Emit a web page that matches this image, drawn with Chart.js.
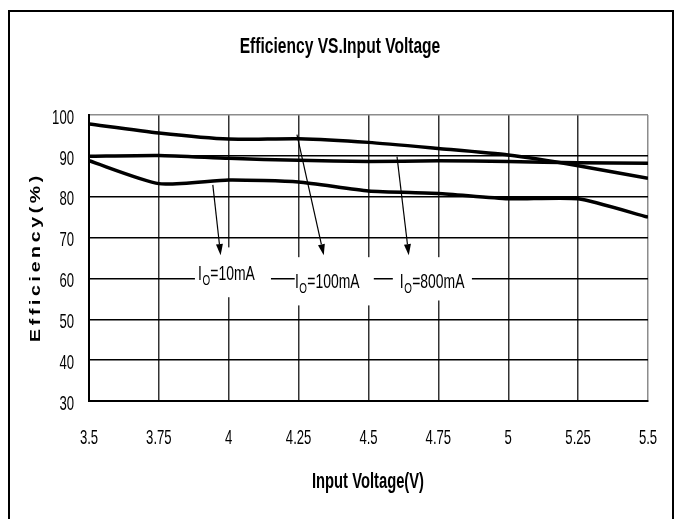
<!DOCTYPE html>
<html>
<head>
<meta charset="utf-8">
<script src="https://cdn.jsdelivr.net/npm/chart.js@4.4.1/dist/chart.umd.min.js"></script>
<style>
html,body{margin:0;padding:0;background:#fff;}
canvas{display:block;}
</style>
</head>
<body>
<canvas id="c" width="675" height="519"></canvas>
<script>
// ---- data ----
const voltages = [3.5, 3.75, 4, 4.25, 4.5, 4.75, 5, 5.25, 5.5];
const xTickLabels = ['3.5', '3.75', '4', '4.25', '4.5', '4.75', '5', '5.25', '5.5'];
const yTickLabels = ['30', '40', '50', '60', '70', '80', '90', '100'];
const eff10mA  = [88.8, 83.2, 84.1, 83.6, 81.4, 80.8, 79.5, 79.5, 75.0];
const eff100mA = [97.8, 95.6, 94.1, 94.2, 93.3, 91.8, 90.2, 87.6, 84.5];
const eff800mA = [89.9, 90.1, 89.4, 88.9, 88.6, 88.8, 88.6, 88.3, 88.2];
const seriesNames = ['10mA', '100mA', '800mA'];
const chartTitle = 'Efficiency VS.Input Voltage';
const xTitle = 'Input Voltage(V)';
const yTitle = 'Efficiency(%)';
// annotation anchors in data units: arrow tail, arrow head, label (left, baseline), white box
const arrowFrom = [[3.943, 82.9], [4.244, 95.2], [4.602, 89.8]];
const arrowTo   = [[3.971, 65.7], [4.340, 65.7], [4.644, 65.7]];
const labelAt   = [[3.890, 59.5], [4.237, 57.6], [4.612, 57.6]];
const boxX      = [[3.879, 4.151], [4.236, 4.519], [4.587, 4.870]];
const boxY      = [[67.6, 55.4], [65.2, 53.4], [65.2, 54.6]];

const FONT = '"Liberation Sans", Arial, sans-serif';
const SX = 0.82, SY = 1.2;   // condensed, tall lettering like the original

const canvas = document.getElementById('c');
const g = canvas.getContext('2d');
const rawFill = g.fillText.bind(g);
g.fillText = function (t, x, y, mw) {
  const sy = /\b16px/.test(this.font) ? 1.3 : SY;
  this.save();
  this.translate(x, y);
  this.scale(SX, sy);
  if (mw !== undefined) rawFill(t, 0, 0, mw / SX); else rawFill(t, 0, 0);
  this.restore();
};

const toPts = arr => voltages.map((v, i) => ({x: v, y: arr[i]}));

const decor = {
  id: 'decor',
  beforeDatasetsDraw(chart) {
    const {ctx, scales: {x, y}} = chart;
    ctx.save();
    ctx.fillStyle = '#fff';
    for (let i = 0; i < boxX.length; i++) {
      const x0 = x.getPixelForValue(boxX[i][0]), x1 = x.getPixelForValue(boxX[i][1]);
      const y0 = y.getPixelForValue(boxY[i][0]), y1 = y.getPixelForValue(boxY[i][1]);
      ctx.fillRect(x0, y0, x1 - x0, y1 - y0);
    }
    ctx.restore();
  },
  afterDatasetsDraw(chart) {
    const {ctx, scales: {x, y}} = chart;
    ctx.save();
    ctx.strokeStyle = '#000';
    ctx.fillStyle = '#000';
    ctx.lineWidth = 1.2;
    for (let i = 0; i < arrowFrom.length; i++) {
      const ax = x.getPixelForValue(arrowFrom[i][0]), ay = y.getPixelForValue(arrowFrom[i][1]);
      const bx = x.getPixelForValue(arrowTo[i][0]), by = y.getPixelForValue(arrowTo[i][1]);
      const ang = Math.atan2(by - ay, bx - ax);
      const L = 11, W = 3.5;
      const hx = bx - L * Math.cos(ang), hy = by - L * Math.sin(ang);
      ctx.beginPath(); ctx.moveTo(ax, ay); ctx.lineTo(hx, hy); ctx.stroke();
      ctx.beginPath();
      ctx.moveTo(bx, by);
      ctx.lineTo(hx + W * Math.sin(ang), hy - W * Math.cos(ang));
      ctx.lineTo(hx - W * Math.sin(ang), hy + W * Math.cos(ang));
      ctx.closePath(); ctx.fill();
    }
    // labels
    ctx.textBaseline = 'alphabetic';
    ctx.textAlign = 'left';
    for (let i = 0; i < labelAt.length; i++) {
      let lx = x.getPixelForValue(labelAt[i][0]);
      const ly = y.getPixelForValue(labelAt[i][1]);
      ctx.font = '17px ' + FONT;
      ctx.fillText('I', lx, ly);
      lx += ctx.measureText('I').width * SX + 0.5;
      ctx.font = '12px ' + FONT;
      ctx.fillText('O', lx, ly + 5);
      lx += ctx.measureText('O').width * SX + 0.3;
      ctx.font = '17px ' + FONT;
      ctx.fillText('=' + seriesNames[i], lx, ly);
    }
    ctx.restore();
  },
  afterDraw(chart) {
    const {ctx} = chart;
    ctx.save();
    ctx.fillStyle = '#000';
    ctx.textBaseline = 'alphabetic';
    ctx.textAlign = 'center';
    // chart title
    ctx.font = 'bold 19px ' + FONT;
    ctx.fillText(chartTitle, 340, 53);
    // x title
    ctx.font = 'bold 18px ' + FONT;
    ctx.fillText(xTitle, 368, 488);
    // y title (wide, spaced lettering)
    ctx.save();
    ctx.translate(39.5, 257);
    ctx.rotate(-Math.PI / 2);
    ctx.scale(1.3, 1);
    ctx.font = 'bold 15px ' + FONT;
    ctx.letterSpacing = '2.8px';
    rawFill(yTitle, 0, 0);
    ctx.restore();
    // outer frame
    ctx.strokeStyle = '#000';
    ctx.lineWidth = 2;
    ctx.strokeRect(9, 11, 664, 530);
    ctx.restore();
  }
};

const lineDs = (label, arr) => ({
  label, data: toPts(arr),
  borderColor: '#000', borderWidth: 3.5,
  pointRadius: 0, tension: 0.2, fill: false
});

new Chart(canvas, {
  type: 'line',
  data: {
    datasets: [
      lineDs('IO=' + seriesNames[0], eff10mA),
      lineDs('IO=' + seriesNames[1], eff100mA),
      lineDs('IO=' + seriesNames[2], eff800mA)
    ]
  },
  options: {
    responsive: false,
    devicePixelRatio: 1,
    animation: false,
    layout: {padding: {top: 115, right: 27, left: 0, bottom: 0}},
    plugins: {legend: {display: false}, title: {display: false}, tooltip: {enabled: false}},
    scales: {
      x: {
        type: 'linear', min: 3.5, max: 5.5,
        afterFit: s => { s.height = 118; s.paddingRight = 0; s.paddingLeft = 0; },
        ticks: {
          stepSize: 0.25, padding: 28, color: '#000',
          font: {family: FONT, size: 16},
          callback: (v, i) => xTickLabels[i]
        },
        grid: {
          drawTicks: false, lineWidth: 1.5,
          color: c => (c.tick && c.tick.value === 5.5) ? '#8c8c8c' : '#333'
        },
        border: {color: '#000', width: 2}
      },
      y: {
        min: 30, max: 100,
        afterFit: s => { s.width = 89; s.paddingTop = 0; s.paddingBottom = 0; },
        ticks: {
          stepSize: 10, padding: 15, color: '#000', labelOffset: 3,
          font: {family: FONT, size: 16},
          callback: (v, i) => yTickLabels[i]
        },
        grid: {
          drawTicks: false, lineWidth: 1.5,
          color: c => (c.tick && c.tick.value === 100) ? '#8c8c8c' : '#000'
        },
        border: {color: '#000', width: 2}
      }
    }
  },
  plugins: [decor]
});
</script>
</body>
</html>
